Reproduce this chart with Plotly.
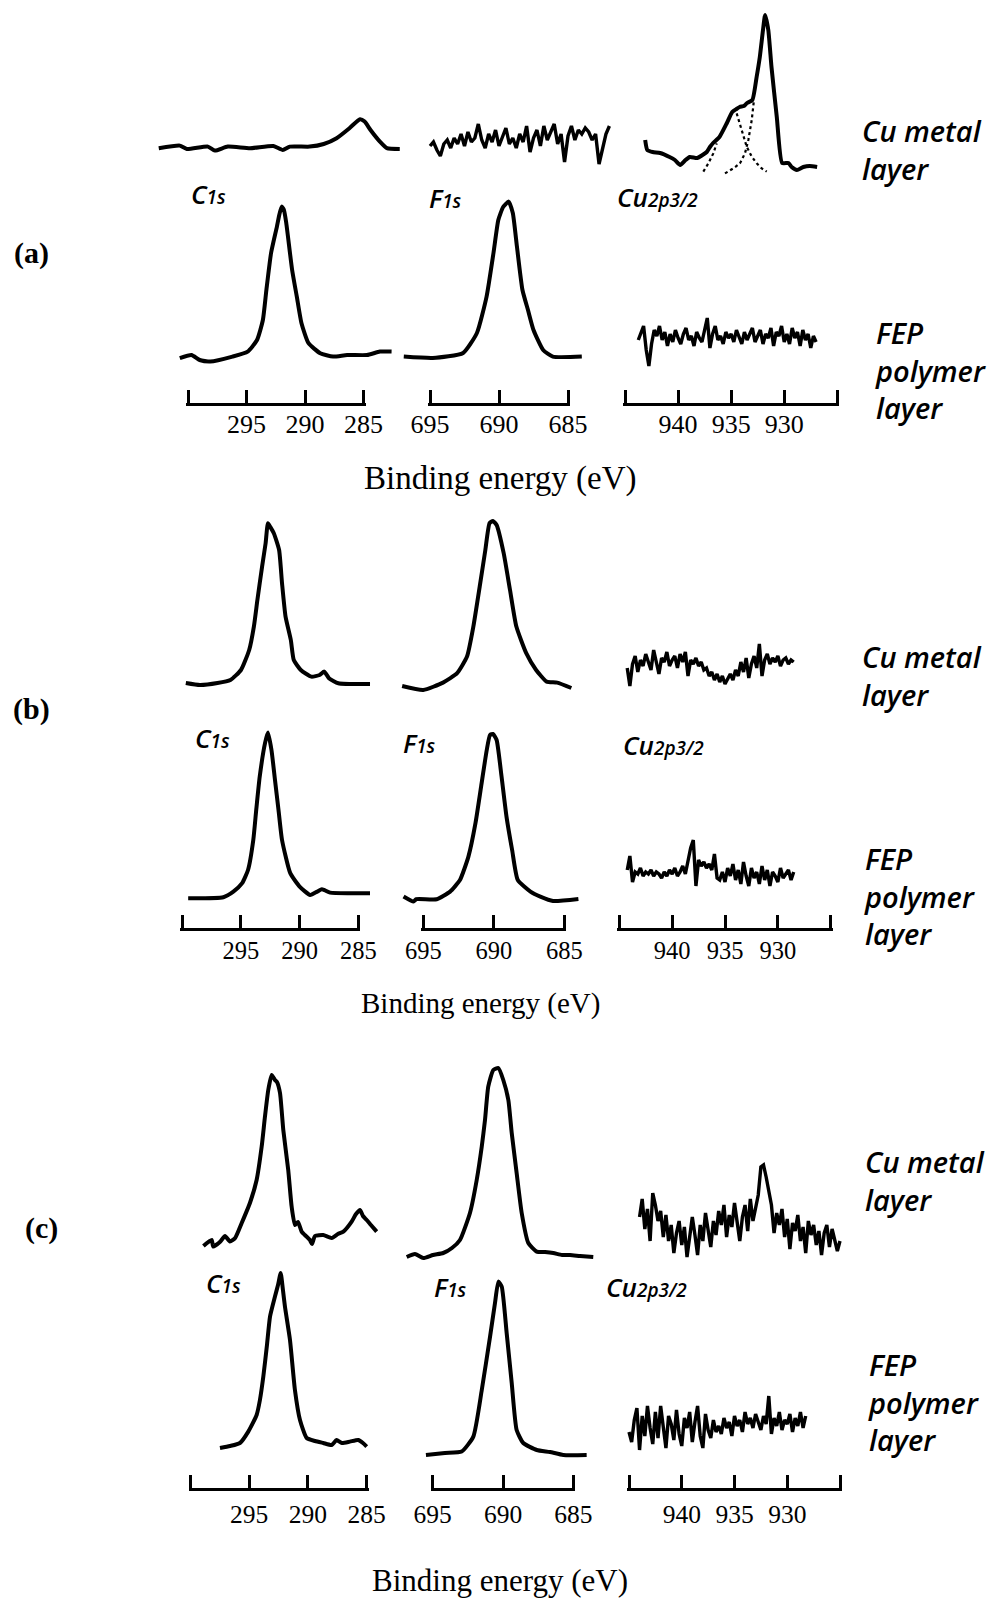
import numpy as np
import plotly.graph_objects as go

# ---------------- DATA (binding energy in eV, intensity in arbitrary units) ----------------
# Panel (a) - Cu metal layer
a_metal_c1s_ev = [302.5, 300.7, 300.1, 298.3, 297.7, 296.6, 294.7, 292.7, 291.9, 291.3, 289.6, 288.4, 287.3,
                  286.2, 285.3, 284.9, 284.4, 283.6, 283.0, 281.9]
a_metal_c1s_int = [25.9, 27.2, 25.5, 26.7, 24.7, 26.7, 25.9, 27.0, 25.0, 26.7, 26.7, 28.0, 30.9,
                   35.9, 40.4, 39.2, 35.0, 29.2, 25.9, 25.5]
a_metal_f1s_range = (695.0, 682.0)
a_metal_f1s_int = [27, 29, 25, 22, 28, 30, 26, 31, 28, 33, 27, 34, 29, 31, 38, 30, 26, 33, 29, 35, 27, 32, 36,
                   28, 31, 26, 33, 29, 37, 24, 31, 35, 27, 37, 30, 34, 38, 28, 33, 19, 32, 37, 30, 35, 33, 36,
                   34, 30, 33, 18, 26, 33, 37]
a_metal_cu_ev = [943.1, 942.9, 942.4, 941.7, 940.8, 940.3, 939.8, 939.3, 938.9, 938.2, 937.7, 937.3, 937.0,
                 936.7, 936.1, 935.4, 934.9, 934.5, 934.2, 933.8, 933.5, 933.0, 932.6, 932.3, 932.0, 931.8,
                 931.5, 931.2, 930.7, 930.2, 929.6, 929.3, 928.8, 928.2, 927.6, 926.9]
a_metal_cu_int = [30, 25, 24, 23.5, 21.5, 20, 17.5, 20, 21.5, 21, 22.5, 24, 26.5,
                  28.5, 31.5, 38.5, 44, 45.5, 46.5, 47, 48.5, 50, 61.5, 71.5, 85, 92.5,
                  85, 66.5, 41.5, 18.5, 18.5, 16.5, 15, 16.5, 17, 16.5]
# fitted components (dotted), segments separated by None
a_metal_cu_fit_ev = [937.62, 937.15, 936.68, 936.36, None,
                     934.48, 934.01, 933.54, 933.06, 932.59, 932.12, 931.65, None,
                     935.58, 934.80, 934.17, 933.70, 933.38, 933.06, 932.85]
a_metal_cu_fit_int = [14.2, 18.3, 23.3, 28.3, None,
                      43.3, 35.0, 26.7, 21.7, 18.3, 15.8, 14.2, None,
                      13.3, 15.8, 18.3, 23.3, 30.0, 40.0, 50.0]

# Panel (a) - FEP polymer layer
a_fep_c1s_ev = [300.7, 299.7, 299.0, 298.1, 296.2, 294.9, 294.1, 293.6, 293.3, 292.9, 292.4, 292.2, 292.0,
                291.8, 291.6, 291.1, 290.7, 290.3, 289.7, 288.7, 287.6, 286.4, 284.7, 283.6, 282.6]
a_fep_c1s_int = [10.9, 12.5, 10.0, 9.2, 11.7, 14.2, 20.0, 30.0, 45.0, 63.5, 76.7, 82.5, 86.7,
                 85.0, 78.4, 55.0, 41.7, 28.4, 18.4, 13.4, 11.7, 12.5, 12.5, 14.2, 14.2]
a_fep_f1s_ev = [696.9, 694.8, 692.6, 691.6, 690.9, 690.4, 690.05, 689.7, 689.3, 689.0, 688.7, 688.3, 687.9,
                687.5, 686.8, 686.1, 684.0]
a_fep_f1s_int = [11.7, 11.0, 13.5, 23.5, 41.7, 63.5, 80.0, 86.5, 89.2, 83.5, 66.7, 45.0, 35.0,
                 25.0, 15.0, 11.7, 11.7]
a_fep_cu_range = (943.75, 927.0)
a_fep_cu_int = [20, 24, 27, 15, 7, 18, 25, 22, 27, 20, 24, 17, 23, 19, 25, 21, 18, 23, 26, 20, 22, 17, 24, 21,
                19, 25, 31, 16, 23, 27, 20, 22, 18, 24, 21, 23, 19, 25, 22, 18, 24, 20, 23, 26, 19, 22, 25, 18,
                23, 21, 26, 17, 24, 22, 27, 19, 23, 18, 26, 21, 24, 17, 25, 20, 23, 16, 22, 19]

# Panel (b) - Cu metal layer
b_metal_c1s_ev = [299.7, 298.5, 297.0, 295.9, 295.0, 294.3, 293.9, 293.6, 293.2, 292.9, 292.7, 292.5, 292.2,
                  291.75, 291.5, 291.2, 290.75, 290.5, 289.9, 289.0, 288.3, 287.9, 287.5, 286.7, 284.0]
b_metal_c1s_int = [8.5, 7.5, 8.5, 10.0, 15.0, 25.0, 36.7, 50.0, 66.7, 78.4, 88.4, 86.5, 83.4,
                   75.0, 58.4, 41.7, 30.0, 20.0, 15.0, 11.7, 12.5, 14.2, 10.9, 8.4, 8.0]
b_metal_f1s_ev = [696.5, 695.0, 693.6, 692.6, 691.9, 691.45, 691.0, 690.6, 690.3, 690.06, 689.8, 689.3,
                  688.85, 688.4, 687.7, 687.0, 686.25, 685.5, 684.5]
b_metal_f1s_int = [7.0, 5.0, 8.7, 13.4, 21.7, 36.7, 56.7, 75.0, 88.4, 89.5, 87.5, 73.4,
                   55.0, 36.7, 23.4, 15.0, 9.2, 8.7, 6.0]
b_metal_cu_range = (944.25, 928.5)
b_metal_cu_int = [16, 7, 18, 22, 14, 20, 17, 23, 19, 15, 25, 18, 13, 21, 19, 24, 17, 20, 22, 16,
                  23, 19, 24, 12, 20, 18, 21, 17, 19, 15, 16, 12, 14, 10, 13, 9, 12, 8, 11, 13,
                  10, 15, 12, 19, 14, 21, 11, 18, 22, 16, 28, 12, 20, 23, 18, 21, 19, 22, 17, 20,
                  21, 18, 20, 19]

# Panel (b) - FEP polymer layer
b_fep_c1s_ev = [299.5, 296.5, 295.65, 294.9, 294.4, 293.95, 293.7, 293.4, 292.95, 292.7, 292.4, 292.1, 291.8,
                291.5, 290.8, 290.0, 289.1, 288.5, 288.1, 287.4, 285.7, 284.0]
b_fep_c1s_int = [5.9, 6.4, 9.2, 13.4, 20.0, 35.0, 50.0, 66.7, 83.4, 88.7, 80.0, 65.0, 50.0,
                 35.0, 18.4, 11.7, 7.5, 9.2, 10.4, 8.7, 8.4, 8.4]
b_fep_f1s_ev = [696.4, 695.7, 695.5, 694.05, 693.1, 692.4, 691.8, 691.3, 690.9, 690.5, 690.27, 690.06, 689.8,
                689.45, 689.1, 688.7, 688.3, 687.4, 686.7, 685.8, 684.0]
b_fep_f1s_int = [6.7, 4.2, 5.4, 5.4, 9.2, 15.0, 26.7, 43.4, 61.7, 80.0, 87.5, 88.0, 85.0,
                 66.7, 46.7, 30.0, 15.0, 9.2, 6.7, 4.5, 5.5]
b_fep_cu_range = (944.25, 928.5)
b_fep_cu_int = [20, 27, 14, 19, 18, 21, 17, 19, 18, 20, 17, 19, 18, 16, 19, 17, 20, 18, 21, 17,
                19, 22, 18, 24, 31, 35, 12, 25, 22, 24, 21, 23, 20, 28, 16, 15, 19, 14, 21, 17,
                23, 15, 20, 13, 24, 17, 12, 21, 16, 19, 13, 22, 15, 20, 12, 19, 17, 14, 21, 16,
                18, 20, 15, 19]

# Panel (c) - Cu metal layer
c_metal_c1s_ev = [298.9, 298.2, 298.06, 297.5, 297.06, 296.64, 296.2, 295.64, 294.94, 294.37, 293.94, 293.66,
                  293.38, 293.09, 292.81, 292.64, 292.38, 292.1, 291.68, 291.39, 291.11, 290.85, 290.54,
                  290.26, 289.83, 289.66, 289.4, 288.7, 287.98, 287.45, 286.99, 286.28, 285.91, 285.57,
                  285.32, 285.0, 284.64, 284.15]
c_metal_c1s_int = [9.5, 12.5, 9.2, 11.5, 14.5, 11.7, 13.5, 21, 31, 42.5, 59.2, 74.2,
                   87.5, 95, 92.5, 91.5, 86, 67.5, 47.5, 29.2, 20, 21.5, 16.7,
                   15, 12.5, 10.5, 14.5, 15, 13.5, 15.5, 16.7, 21.7, 25.5, 27.5,
                   24.5, 22.5, 20, 16.7]
c_metal_f1s_ev = [696.85, 696.26, 695.67, 694.98, 694.25, 693.63, 693.06, 692.35, 691.87, 691.51, 691.28,
                  691.05, 690.69, 690.33, 689.98, 689.62, 689.38, 689.03, 688.67, 688.2, 687.6, 687.01,
                  686.42, 685.8, 685.23, 684.52, 683.58]
c_metal_f1s_int = [4, 5.5, 3.5, 5, 6, 8.5, 12.5, 26, 42.5, 59.2, 72.5,
                   89.2, 97.5, 98.5, 92.5, 82.5, 66, 46, 26, 11, 6.7, 6.5,
                   6, 5, 5, 4.5, 4]
c_metal_cu_range = (944.0, 925.0)
c_metal_cu_int = [24, 33, 18, 28, 12, 36, 30, 22, 27, 14, 25, 12, 20, 6, 16, 22, 10, 19, 4, 14,
                  24, 15, 5, 20, 12, 26, 18, 9, 22, 15, 27, 20, 30, 14, 25, 19, 31, 22, 12, 24,
                  30, 17, 33, 22, 28, 35, 49, 50, 44, 36, 30, 16, 26, 20, 28, 14, 23, 8, 21, 17,
                  25, 12, 19, 6, 22, 15, 20, 10, 17, 5, 16, 20, 9, 18, 13, 7, 12]

# Panel (c) - FEP polymer layer
c_fep_c1s_ev = [297.49, 296.64, 295.79, 295.08, 294.37, 294.09, 293.8, 293.49, 293.23, 292.81, 292.55, 292.32,
                292.13, 291.96, 291.53, 291.11, 290.68, 290.11, 289.4, 288.7, 287.98, 287.56, 287.11, 286.43,
                285.72, 285.32, 285.0]
c_fep_c1s_int = [6, 7, 8.5, 14.2, 22.5, 30, 41.7, 57.5, 71.7, 81.7, 87.5, 93.5,
                 85, 76.7, 60, 35, 20, 11, 9.5, 8.5, 7.5, 10, 8.5, 9.2,
                 10, 8.5, 6.7]
c_fep_f1s_ev = [695.48, 694.13, 692.94, 692.11, 691.51, 690.92, 690.57, 690.33, 690.09, 689.74, 689.38, 689.03,
                688.56, 687.6, 686.66, 685.71, 684.05]
c_fep_f1s_int = [2.5, 3.5, 4.2, 11.7, 35, 61.7, 78.5, 89.2, 86.7, 63.5, 38.5, 15,
                 8.5, 5, 4, 2.5, 2.5]
c_fep_cu_range = (945.0, 928.25)
c_fep_cu_int = [14, 9, 20, 26, 5, 22, 12, 27, 16, 8, 24, 11, 27, 15, 6, 22, 18, 10, 25, 13,
                7, 21, 16, 24, 9, 19, 27, 12, 6, 23, 15, 11, 20, 14, 17, 13, 21, 16, 19, 12,
                22, 17, 20, 14, 24, 18, 21, 16, 23, 19, 15, 22, 18, 32, 13, 21, 17, 24, 15, 20,
                18, 23, 14, 21, 17, 24, 16, 22]

# Scale-bar ticks (eV) and their labels
c1s_ticks = [300, 295, 290, 285]
c1s_ticktext = ["", "295", "290", "285"]
f1s_ticks = [695, 690, 685]
f1s_ticktext = ["695", "690", "685"]
cu_ticks = [945, 940, 935, 930, 925]
cu_ticktext = ["", "940", "935", "930", ""]

# ---------------- LAYOUT (pixel geometry of the page) ----------------
W, H = 987, 1600


def fx(p):
    return p / W


def fy(p):
    return 1 - p / H


panels = {
    "a": dict(bar_y=403, tick_size=26, standoff=-4,
              bands={"metal": (0, 200), "fep": (180, 380)},
              cols={"C1s": (188, 363.5, 300, 285), "F1s": (430, 568, 695, 685), "Cu": (625, 837.3, 945, 925)}),
    "b": dict(bar_y=927.5, tick_size=24.5, standoff=-1,
              bands={"metal": (500, 700), "fep": (710, 910)},
              cols={"C1s": (182.3, 358.3, 300, 285), "F1s": (423.3, 564.3, 695, 685), "Cu": (619.3, 830.7, 945, 925)}),
    "c": dict(bar_y=1487.5, tick_size=25.5, standoff=2,
              bands={"metal": (1065, 1265), "fep": (1260, 1460)},
              cols={"C1s": (190.5, 366.7, 300, 285), "F1s": (432.7, 573.3, 695, 685), "Cu": (629, 840, 945, 925)}),
}
cell_px = {"C1s": (130, 412), "F1s": (378, 622), "Cu": (598, 852)}
ticks = {"C1s": (c1s_ticks, c1s_ticktext), "F1s": (f1s_ticks, f1s_ticktext), "Cu": (cu_ticks, cu_ticktext)}


def grid(rng, vals):
    return list(np.linspace(rng[0], rng[1], len(vals)))


spectra = {
    ("a", "metal", "C1s"): (a_metal_c1s_ev, a_metal_c1s_int),
    ("a", "metal", "F1s"): (grid(a_metal_f1s_range, a_metal_f1s_int), a_metal_f1s_int),
    ("a", "metal", "Cu"): (a_metal_cu_ev, a_metal_cu_int),
    ("a", "fep", "C1s"): (a_fep_c1s_ev, a_fep_c1s_int),
    ("a", "fep", "F1s"): (a_fep_f1s_ev, a_fep_f1s_int),
    ("a", "fep", "Cu"): (grid(a_fep_cu_range, a_fep_cu_int), a_fep_cu_int),
    ("b", "metal", "C1s"): (b_metal_c1s_ev, b_metal_c1s_int),
    ("b", "metal", "F1s"): (b_metal_f1s_ev, b_metal_f1s_int),
    ("b", "metal", "Cu"): (grid(b_metal_cu_range, b_metal_cu_int), b_metal_cu_int),
    ("b", "fep", "C1s"): (b_fep_c1s_ev, b_fep_c1s_int),
    ("b", "fep", "F1s"): (b_fep_f1s_ev, b_fep_f1s_int),
    ("b", "fep", "Cu"): (grid(b_fep_cu_range, b_fep_cu_int), b_fep_cu_int),
    ("c", "metal", "C1s"): (c_metal_c1s_ev, c_metal_c1s_int),
    ("c", "metal", "F1s"): (c_metal_f1s_ev, c_metal_f1s_int),
    ("c", "metal", "Cu"): (grid(c_metal_cu_range, c_metal_cu_int), c_metal_cu_int),
    ("c", "fep", "C1s"): (c_fep_c1s_ev, c_fep_c1s_int),
    ("c", "fep", "F1s"): (c_fep_f1s_ev, c_fep_f1s_int),
    ("c", "fep", "Cu"): (grid(c_fep_cu_range, c_fep_cu_int), c_fep_cu_int),
}
noisy = {("a", "metal", "F1s"), ("a", "fep", "Cu"), ("b", "metal", "Cu"), ("b", "fep", "Cu"),
         ("c", "metal", "Cu"), ("c", "fep", "Cu")}

fig = go.Figure()
layout = {}
k = 0


def add_axes(xdom, xrange, ydom, yrange, **xextra):
    global k
    k += 1
    sx = "" if k == 1 else str(k)
    xa = dict(domain=xdom, range=xrange, visible=False, showgrid=False, zeroline=False, fixedrange=True,
              automargin=False, anchor="y" + sx)
    xa.update(xextra)
    if xextra:
        xa["visible"] = True
    layout["xaxis" + sx] = xa
    layout["yaxis" + sx] = dict(domain=ydom, range=yrange, visible=False, showgrid=False, zeroline=False,
                                automargin=False, fixedrange=True, anchor="x" + sx)
    return "x" + sx, "y" + sx


PAD = 2.0  # px beyond the end ticks so that the end ticks are drawn
for pk, p in panels.items():
    for col, (b0, b1, e0, e1) in p["cols"].items():
        scale = (b1 - b0) / (e0 - e1)          # pixels per eV
        c0, c1 = cell_px[col]
        xr = [e0 - (c0 - b0) / scale, e0 - (c1 - b0) / scale]
        for row, (top, bot) in p["bands"].items():
            xref, yref = add_axes([fx(c0), fx(c1)], xr, [fy(bot), fy(top)], [0, 100])
            ev, inten = spectra[(pk, row, col)]
            is_noisy = (pk, row, col) in noisy
            fig.add_trace(go.Scatter(x=ev, y=inten, xaxis=xref, yaxis=yref, mode="lines",
                                     line=dict(color="black", width=3.4 if is_noisy else 4.0,
                                               shape="linear" if is_noisy else "spline",
                                               smoothing=0.5),
                                     hoverinfo="skip", showlegend=False))
            if (pk, row, col) == ("a", "metal", "Cu"):
                fig.add_trace(go.Scatter(x=a_metal_cu_fit_ev, y=a_metal_cu_fit_int, xaxis=xref, yaxis=yref,
                                         mode="lines", connectgaps=False,
                                         line=dict(color="black", width=2.2, dash="dot"),
                                         hoverinfo="skip", showlegend=False))
        # scale bar axis
        tv, tt = ticks[col]
        by = p["bar_y"]
        xref, yref = add_axes([fx(b0 - PAD), fx(b1 + PAD)], [e0 + PAD / scale, e1 - PAD / scale],
                              [fy(by), fy(by - 20)], [0, 1],
                              showline=True, linewidth=3, linecolor="black", mirror=False,
                              ticks="inside", ticklen=13, tickwidth=3, tickcolor="black",
                              tickmode="array", tickvals=tv, ticktext=tt, side="bottom",
                              ticklabelstandoff=p["standoff"],
                              tickfont=dict(family="Liberation Serif", size=p["tick_size"], color="black"))
        fig.add_trace(go.Scatter(x=[e0, e1], y=[None, None], xaxis=xref, yaxis=yref, mode="lines",
                                 hoverinfo="skip", showlegend=False))

# ---------------- TEXT ----------------
ann = []
SANS = "Open Sans"


def text(x, y, s, size, family=SANS, italic=True, anchor="left", weight="normal"):
    ann.append(dict(x=fx(x), y=fy(y), xref="paper", yref="paper", text=s, showarrow=False,
                    xanchor=anchor, yanchor="middle", align="left",
                    font=dict(family=family, size=size, color="black",
                              style="italic" if italic else "normal", weight=weight)))


def peak_label(x, y, main, sub, size=26, subsize=19):
    text(x, y, f"{main}<span style='font-size:{subsize}px'>{sub}</span>", size, weight=600)


label_pos = {
    "a": dict(c1s=(189, 194), f1s=(427, 198), cu=(615, 197), tag=(31, 253),
              metal=(860, 149), fep=(873, 370), be=(500, 479, 33)),
    "b": dict(c1s=(193, 738), f1s=(401, 743), cu=(621, 745), tag=(31, 709),
              metal=(860, 675), fep=(862, 896), be=(480, 1004, 29)),
    "c": dict(c1s=(204, 1283), f1s=(432, 1287), cu=(604, 1287), tag=(41, 1228),
              metal=(863, 1180), fep=(866, 1402), be=(500, 1580, 31)),
}
for pk, L in label_pos.items():
    peak_label(*L["c1s"], "C", "1s")
    peak_label(*L["f1s"], "F", "1s")
    peak_label(*L["cu"], "Cu", "2p3/2")
    text(*L["tag"], f"({pk})", 30, family="Liberation Serif", italic=False, anchor="center", weight="bold")
    text(*L["metal"], "Cu metal<br>layer", 29, weight=600)
    text(*L["fep"], "FEP<br>polymer<br>layer", 29, weight=600)
    bx, byy, bs = L["be"]
    text(bx, byy, "Binding energy (eV)", bs, family="Liberation Serif", italic=False, anchor="center")

fig.update_layout(**layout)
fig.update_layout(template="none", width=W, height=H, margin=dict(l=0, r=0, t=0, b=0, autoexpand=False),
                  paper_bgcolor="white", plot_bgcolor="rgba(0,0,0,0)", showlegend=False, annotations=ann)
fig.write_html("out.html", config={"displayModeBar": False, "staticPlot": True},
               post_script="document.body.style.margin='0px';")
